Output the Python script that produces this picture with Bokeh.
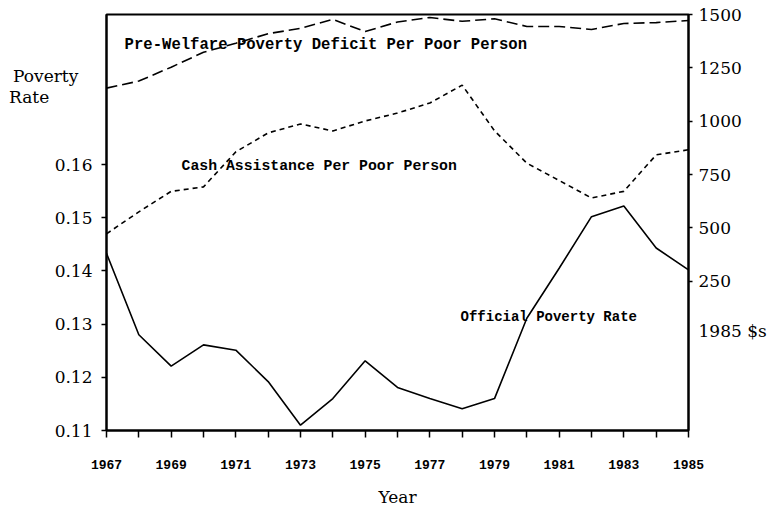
from bokeh.plotting import figure
from bokeh.models import Range1d, LinearAxis, FixedTicker, CustomJSTickFormatter, Label
from bokeh.embed import file_html
from bokeh.resources import INLINE

years = list(range(1967, 1986))
official_rate = [0.1433, 0.128, 0.1221, 0.1261, 0.1251, 0.1192, 0.111, 0.116, 0.1231, 0.1181,
                 0.116, 0.1141, 0.116, 0.1311, 0.1405, 0.1502, 0.1522, 0.1443, 0.1402]
pre_welfare_deficit = [1155, 1188, 1253, 1323, 1365, 1410, 1435, 1477, 1420, 1465,
                       1486, 1468, 1480, 1444, 1444, 1430, 1458, 1462, 1472]
cash_assistance = [472, 575, 671, 692, 856, 945, 987, 954, 1001, 1038,
                   1085, 1169, 955, 803, 722, 640, 671, 842, 866]
left_ticks = [0.11, 0.12, 0.13, 0.14, 0.15, 0.16]
right_ticks = [250, 500, 750, 1000, 1250, 1500]
x_tick_labels = {y: (str(y) if y % 2 == 1 else "") for y in years}

# axis titles carried as label-only ticks (positions in axis units)
left_title_ticks = [0.1766, 0.1726]
left_title_texts = ["Poverty\u00a0\u00a0\u2009", "Rate" + "\u00a0" * 8]
right_title_tick = 18
right_title_text = "1985 $s"

W, H = 772, 509
p = figure(width=W, height=H, output_backend="svg", toolbar_location=None,
           x_range=Range1d(1967, 1985), y_range=Range1d(0.11, 0.1882),
           min_border_left=106, min_border_right=84, min_border_top=14, min_border_bottom=77)
p.extra_y_ranges = {"dollars": Range1d(-450, 1500)}
p.xgrid.visible = False
p.ygrid.visible = False
p.outline_line_color = "black"
p.outline_line_width = 2
p.background_fill_color = "white"
p.border_fill_color = "white"

# x axis
xa = p.xaxis[0]
xa.ticker = FixedTicker(ticks=years)
xa.major_label_overrides = x_tick_labels
xa.major_tick_in = 0
xa.major_tick_out = 7
xa.minor_tick_out = 0
xa.minor_tick_in = 0
xa.axis_line_width = 2
xa.major_tick_line_width = 1.5
xa.major_label_standoff = 22
xa.major_label_text_font = "Liberation Mono"
xa.major_label_text_font_style = "bold"
xa.major_label_text_font_size = "13px"
xa.major_label_text_color = "black"
xa.axis_label = "Year"
xa.axis_label_text_font = "DejaVu Serif"
xa.axis_label_text_font_style = "normal"
xa.axis_label_text_font_size = "17px"
xa.axis_label_text_color = "black"
xa.axis_label_standoff = 15

# left axis: labelled major ticks without marks, marks drawn as minor ticks
ya = p.yaxis[0]
ya.ticker = FixedTicker(ticks=left_ticks + left_title_ticks, minor_ticks=left_ticks)
ya.formatter = CustomJSTickFormatter(
    args=dict(tt=left_title_ticks, tx=left_title_texts),
    code="""
    for (let i = 0; i < tt.length; i++) { if (Math.abs(tick - tt[i]) < 1e-6) return tx[i]; }
    return tick.toFixed(2);
    """)
ya.major_tick_in = 0
ya.major_tick_out = 0
ya.minor_tick_in = 0
ya.minor_tick_out = 5
ya.minor_tick_line_width = 1.5
ya.minor_tick_line_color = "black"
ya.axis_line_width = 2
ya.major_label_standoff = 9
ya.major_label_text_font = "DejaVu Serif"
ya.major_label_text_font_size = "17px"
ya.major_label_text_color = "black"

# right axis
ra = LinearAxis(y_range_name="dollars",
                ticker=FixedTicker(ticks=right_ticks + [right_title_tick], minor_ticks=right_ticks))
ra.major_label_overrides = {right_title_tick: right_title_text}
ra.major_tick_in = 0
ra.major_tick_out = 0
ra.minor_tick_in = 0
ra.minor_tick_out = 4
ra.minor_tick_line_width = 1.5
ra.minor_tick_line_color = "black"
ra.axis_line_width = 2
ra.major_label_standoff = 6
ra.major_label_text_font = "DejaVu Serif"
ra.major_label_text_font_size = "17px"
ra.major_label_text_color = "black"
p.add_layout(ra, "right")

# lines
p.line(years, official_rate, line_color="black", line_width=1.6)
p.line(years, pre_welfare_deficit, y_range_name="dollars", line_color="black",
       line_width=1.6, line_dash="11 5")
p.line(years, cash_assistance, y_range_name="dollars", line_color="black",
       line_width=1.6, line_dash="5 4")

# in-plot labels
def lab(text, x, y, size, rng="default", align="left"):
    lb = Label(x=x, y=y, text=text, text_font="Liberation Mono", text_font_size=size,
               text_font_style="bold", text_align=align, text_baseline="middle",
               text_color="black", y_range_name=rng)
    p.add_layout(lb)

lab("Pre-Welfare Poverty Deficit Per Poor Person", 1967.56, 1355, "15.6px", rng="dollars")
lab("Cash Assistance Per Poor Person", 1969.32, 791, "14.8px", rng="dollars")
lab("Official Poverty Rate", 1977.95, 0.1313, "14px")

open("out.html", "w").write(file_html(p, INLINE))
